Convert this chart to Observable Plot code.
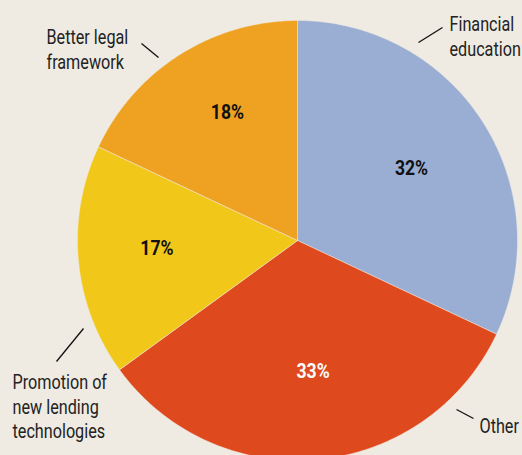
<!DOCTYPE html>
<html>
<head>
<meta charset="utf-8">
<script src="https://cdn.jsdelivr.net/npm/d3@7"></script>
<script src="https://cdn.jsdelivr.net/npm/@observablehq/plot@0.6"></script>
<style>
  html, body { margin: 0; padding: 0; background: #EFEBE2; }
  #chart { width: 522px; height: 455px; overflow: hidden; }
</style>
</head>
<body>
<div id="chart"></div>
<script>
// ---- data ----
const categories = ["Financial education", "Other", "Promotion of new lending technologies", "Better legal framework"];
const labelLines = ["Financial\neducation", "Other", "Promotion of\nnew lending\ntechnologies", "Better legal\nframework"];
const shares = [32, 33, 17, 18];
const colors = ["#9AAED3", "#DE4A1E", "#F1C81A", "#EFA222"];
const pctColors = ["#111", "#fff", "#111", "#111"];

// ---- layout (pixel space) ----
const W = 522, H = 455;
const cx = 297, cy = 240, R = 220;
// external label anchors (text start x, cap top y) and leader lines
const labelPos = [[449, 13], [479, 415], [12, 371], [46, 26]];
const leaders = [[418, 42, 442, 27], [456, 409, 473, 418], [83, 328, 56, 361], [158, 57, 141, 43]];
// percent label placement: [radius fraction, angle offset in degrees]
const pctPlace = [[0.613, 0.1], [0.598, -1.4], [0.64, 2.1], [0.663, 3.7]];

const pie = d3.pie().sort(null).value(d => d.value)(shares.map((v, i) => ({value: v, i})));

function pt(a, r) { return [cx + r * Math.sin(a), cy - r * Math.cos(a)]; }

const slices = pie.map(p => {
  const pts = [pt(0, 0)];
  const n = 120;
  for (let k = 0; k <= n; k++) {
    const a = p.startAngle + (p.endAngle - p.startAngle) * k / n;
    pts.push(pt(a, R));
  }
  pts.push(pt(0, 0));
  return {i: p.data.i, pts: pts.map(([x, y]) => ({x, y}))};
});

const pctLabels = pie.map(p => {
  const i = p.data.i;
  const a = (p.startAngle + p.endAngle) / 2 + pctPlace[i][1] * Math.PI / 180;
  const [x, y] = pt(a, R * pctPlace[i][0]);
  return {x, y, text: shares[i] + "%", color: pctColors[i]};
});

const outer = categories.map((c, i) => ({x: labelPos[i][0], y: labelPos[i][1], text: labelLines[i]}));
const links = leaders.map(l => ({x1: l[0], y1: l[1], x2: l[2], y2: l[3]}));

const font = "Roboto, 'Noto Sans', sans-serif";

const marks = [];
slices.forEach(s => {
  marks.push(Plot.line(s.pts, {x: "x", y: "y", fill: colors[s.i], stroke: "#EFEBE2", strokeWidth: 0.5, curve: "linear"}));
});
marks.push(Plot.text(pctLabels, {x: "x", y: "y", text: "text", fill: "color", fontSize: 20, fontWeight: "bold", lineAnchor: "middle"}));
marks.push(Plot.text(outer, {x: "x", y: "y", text: "text", fill: "#222", fontSize: 20.5, textAnchor: "start", lineAnchor: "top", lineHeight: 1.2}));
marks.push(Plot.link(links, {x1: "x1", y1: "y1", x2: "x2", y2: "y2", stroke: "#111", strokeWidth: 1.3}));

const chart = Plot.plot({
  width: W,
  height: H,
  margin: 0,
  x: {type: "linear", domain: [0, W], range: [0, W], axis: null},
  y: {type: "linear", domain: [0, H], range: [0, H], axis: null},
  style: {background: "#EFEBE2", fontFamily: font, overflow: "hidden"},
  marks
});

// condense text horizontally (reference uses a condensed typeface)
const groups = chart.querySelectorAll('g[aria-label="text"]');
const factors = [0.88, 0.79];
groups.forEach((g, gi) => {
  g.querySelectorAll("text").forEach(t => {
    const tr = t.getAttribute("transform") || "";
    t.setAttribute("transform", tr + ` scale(${factors[gi]},1)`);
  });
});
document.getElementById("chart").appendChild(chart);
</script>
</body>
</html>
